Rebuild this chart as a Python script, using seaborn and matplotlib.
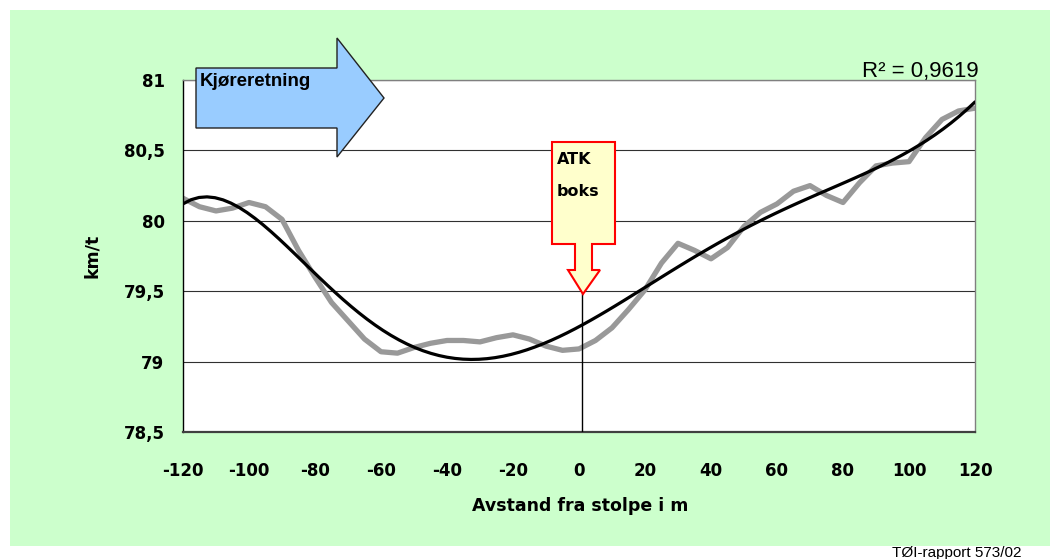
import numpy as np
import pandas as pd
import matplotlib
matplotlib.use("Agg")
import matplotlib.pyplot as plt
from matplotlib.patches import Polygon, Rectangle
import seaborn as sns

# ---- data ----
distance = [-120, -115, -110, -105, -100, -95, -90, -85, -80, -75, -70, -65, -60, -55,
            -50, -45, -40, -35, -30, -25, -20, -15, -10, -5, 0, 5, 10, 15, 20, 25,
            30, 35, 40, 45, 50, 55, 60, 65, 70, 75, 80, 85, 90, 95, 100, 105, 110,
            115, 120]
speed = [80.16, 80.10, 80.07, 80.09, 80.13, 80.10, 80.01, 79.79, 79.60, 79.42, 79.29,
         79.16, 79.07, 79.06, 79.10, 79.13, 79.15, 79.15, 79.14, 79.17, 79.19, 79.16,
         79.11, 79.08, 79.09, 79.15, 79.24, 79.37, 79.51, 79.70, 79.84, 79.79, 79.73,
         79.81, 79.96, 80.06, 80.12, 80.21, 80.25, 80.18, 80.13, 80.27, 80.39, 80.41,
         80.42, 80.59, 80.72, 80.78, 80.80]
x_ticks = [-120, -100, -80, -60, -40, -20, 0, 20, 40, 60, 80, 100, 120]
y_ticks = [78.5, 79, 79.5, 80, 80.5, 81]
y_tick_labels = ["78,5", "79", "79,5", "80", "80,5", "81"]
r2_label = "R² = 0,9619"
atk_position = 1

df = pd.DataFrame({"distance": distance, "speed": speed})

W, H = 1053, 559
sns.set_style("white")
plt.rcParams["text.color"] = "black"
plt.rcParams["axes.labelcolor"] = "black"
plt.rcParams["xtick.color"] = "black"
plt.rcParams["ytick.color"] = "black"

fig = plt.figure(figsize=(W / 100, H / 100), dpi=100)
fig.patch.set_facecolor("white")

def fx(px):
    return px / W

def fy(py):
    return 1 - py / H

# green chart area
fig.add_artist(Rectangle((fx(10), fy(546)), fx(1050) - fx(10), fy(10) - fy(546),
                         transform=fig.transFigure, facecolor="#CCFFCC",
                         edgecolor="none", zorder=-10))

ax = fig.add_axes([fx(183), fy(432), fx(975) - fx(183), fy(80) - fy(432)])
ax.set_facecolor("white")

sns.lineplot(data=df, x="distance", y="speed", ax=ax, color="#999999",
             linewidth=3.8, zorder=2, solid_joinstyle="round", solid_capstyle="round")
sns.regplot(data=df, x="distance", y="speed", ax=ax, order=6, ci=None,
            scatter=False, line_kws=dict(color="black", linewidth=2.3, zorder=3))

ax.plot([atk_position, atk_position], [78.5, 79.5], color="black", lw=1, zorder=4)

ax.set_xlim(-120, 120)
ax.set_ylim(78.5, 81)
ax.set_xticks(x_ticks)
ax.set_xticklabels([str(t) for t in x_ticks])
ax.set_yticks(y_ticks)
ax.set_yticklabels(y_tick_labels)
ax.yaxis.grid(True, color="#303030", linewidth=0.8)
ax.xaxis.grid(False)
ax.set_axisbelow(True)

bold = dict(family="DejaVu Sans", weight="bold", color="black")
for lab in ax.get_xticklabels() + ax.get_yticklabels():
    lab.set_fontfamily("DejaVu Sans")
    lab.set_fontweight("bold")
    lab.set_fontsize(12)
    lab.set_color("black")
ax.tick_params(axis="x", direction="out", length=4.3, width=1, pad=17, color="#404040")
ax.tick_params(axis="y", direction="out", length=4.3, width=1, pad=9, color="black")

ax.set_xlabel("Avstand fra stolpe i m", fontsize=12.5, **bold)
ax.set_ylabel("km/t", fontsize=12.5, **bold)
ax.xaxis.set_label_coords(0.501, -0.185)
ax.yaxis.set_label_coords(-0.104, 0.5)

for side in ["top", "right"]:
    ax.spines[side].set_color("#808080")
    ax.spines[side].set_linewidth(1)
ax.spines["left"].set_color("black")
ax.spines["left"].set_linewidth(1)
ax.spines["bottom"].set_color("#404040")
ax.spines["bottom"].set_linewidth(1.6)

# direction arrow
arrow_px = [(196, 68), (337, 68), (337, 38), (384, 98), (337, 157), (337, 128), (196, 128)]
fig.add_artist(Polygon([(fx(a), fy(b)) for a, b in arrow_px], closed=True,
                       transform=fig.transFigure, facecolor="#99CCFF",
                       edgecolor="#222222", linewidth=1, zorder=5))
fig.text(fx(200), fy(82), "Kjøreretning", family="Liberation Sans", weight="bold",
         fontsize=13.5, va="center", ha="left", zorder=6, color="black")

# ATK callout
atk_px = [(552, 142), (615, 142), (615, 244), (592, 244), (592, 270), (600, 270),
          (583, 294), (568, 270), (575, 270), (575, 244), (552, 244)]
fig.add_artist(Polygon([(fx(a), fy(b)) for a, b in atk_px], closed=True,
                       transform=fig.transFigure, facecolor="#FFFFCC",
                       edgecolor="red", linewidth=1.5, zorder=5))
fig.text(fx(557), fy(160), "ATK", fontsize=11.5, va="center", ha="left", zorder=6, **bold)
fig.text(fx(557), fy(191), "boks", fontsize=11.5, va="center", ha="left", zorder=6, **bold)

# R^2 label
fig.text(fx(862), fy(77), r2_label, family="Liberation Sans", fontsize=16,
         va="baseline", ha="left", zorder=6, color="black")

# source
fig.text(fx(892), fy(546), "TØI-rapport 573/02", family="Liberation Sans",
         fontsize=11, va="top", ha="left", zorder=6, color="black")

fig.savefig("out.png", dpi=100, facecolor="white")
